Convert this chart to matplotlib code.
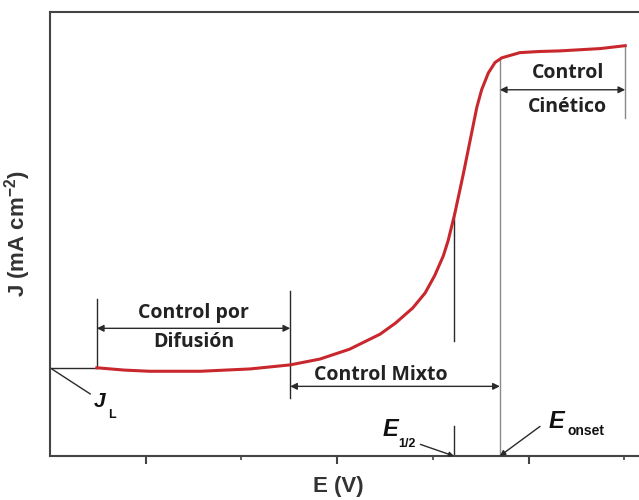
import numpy as np
import matplotlib.pyplot as plt

plt.rcParams['mathtext.default'] = 'regular'

# curva de polarizacion
E = [0.049, 0.078, 0.104, 0.157, 0.209, 0.251, 0.282, 0.313, 0.329, 0.345,
     0.361, 0.379, 0.392, 0.402, 0.411, 0.416, 0.423, 0.432, 0.439, 0.446,
     0.451, 0.458, 0.465, 0.472, 0.491, 0.512, 0.533, 0.575, 0.601]
J = [-5.48, -5.52, -5.54, -5.54, -5.50, -5.43, -5.33, -5.16, -5.03, -4.90,
     -4.71, -4.45, -4.19, -3.89, -3.55, -3.29, -2.82, -2.13, -1.56, -0.99,
     -0.69, -0.40, -0.22, -0.14, -0.05, -0.03, -0.02, 0.02, 0.07]

E_ini = 0.049      # inicio zona difusion
E_dif = 0.251      # fin zona difusion
E_half = 0.422
E_onset = 0.470
E_fin = 0.601
J_L = -5.48
J_half = -2.82

negro = '#2a2a2a'
gris = '#8a8a8a'
fb = dict(family='Open Sans', fontweight='bold', fontsize=14, color='#222222')
fe = dict(family='Liberation Sans', fontweight='bold', color='#111111')

fig = plt.figure(figsize=(6.39, 5.0), dpi=100)
ax = fig.add_axes([0.0782, 0.088, 1.0485, 0.888])
ax.set_xlim(0, 0.7)
ax.set_ylim(-7.0, 0.65)

ax.plot(E, J, color='#c8282d', lw=2.2, zorder=3, solid_joinstyle='round')

# J_L
ax.plot([0, E_ini], [J_L, J_L], color=negro, lw=1)
ax.plot([0, 0.042], [J_L, -5.93], color=negro, lw=1)
ax.text(0.046, -6.06, 'J', fontsize=15, fontstyle='italic', ha='left', va='center', **fe)
ax.text(0.061, -6.29, 'L', fontsize=9, ha='left', va='center', **fe)

# difusion
ax.plot([E_ini, E_ini], [J_L, -4.29], color=negro, lw=1)
ax.plot([E_dif, E_dif], [-4.15, -6.0], color=negro, lw=1)
ax.annotate('', xy=(E_ini, -4.80), xytext=(E_dif, -4.80),
            arrowprops=dict(arrowstyle='<|-|>', color=negro, lw=1,
                            mutation_scale=10, shrinkA=0, shrinkB=0))
ax.text((E_ini + E_dif) / 2, -4.53, 'Control por', ha='center', va='center', **fb)
ax.text((E_ini + E_dif) / 2, -5.04, 'Difusión', ha='center', va='center', **fb)

# mixto
ax.annotate('', xy=(E_dif, -5.80), xytext=(E_onset, -5.80),
            arrowprops=dict(arrowstyle='<|-|>', color=negro, lw=1,
                            mutation_scale=10, shrinkA=0, shrinkB=0))
ax.text(0.346, -5.60, 'Control Mixto', ha='center', va='center', **fb)

# E onset
ax.plot([E_onset, E_onset], [-0.14, -7.0], color=gris, lw=1)
ax.annotate('', xy=(E_onset, -7.0), xytext=(0.512, -6.49),
            arrowprops=dict(arrowstyle='-|>', color=negro, lw=1,
                            mutation_scale=8, shrinkA=0, shrinkB=0))
ax.text(0.521, -6.40, 'E', fontsize=17, fontstyle='italic', ha='left', va='center', **fe)
ax.text(0.541, -6.57, 'onset', fontsize=10, ha='left', va='center', **fe)

# E 1/2
ax.plot([E_half, E_half], [J_half, -5.02], color=negro, lw=1)
ax.plot([E_half, E_half], [-6.49, -7.0], color=negro, lw=1)
ax.annotate('', xy=(E_half, -7.0), xytext=(0.387, -6.80),
            arrowprops=dict(arrowstyle='-|>', color=negro, lw=1,
                            mutation_scale=7, shrinkA=0, shrinkB=0))
ax.text(0.347, -6.54, 'E', fontsize=17, fontstyle='italic', ha='left', va='center', **fe)
ax.text(0.364, -6.79, '1/2', fontsize=9, ha='left', va='center', **fe)

# cinetico
ax.plot([E_fin, E_fin], [0.07, -1.18], color=gris, lw=1)
ax.annotate('', xy=(E_onset, -0.69), xytext=(E_fin, -0.69),
            arrowprops=dict(arrowstyle='<|-|>', color=negro, lw=1,
                            mutation_scale=10, shrinkA=0, shrinkB=0))
ax.text(0.541, -0.40, 'Control', ha='center', va='center', **fb)
ax.text(0.541, -0.99, 'Cinético', ha='center', va='center', **fb)

# ejes
for s in ax.spines.values():
    s.set_color('#444444')
    s.set_linewidth(1.5)
ax.set_xticks([0.1, 0.3, 0.5])
ax.set_xticks([0.2, 0.4, 0.6], minor=True)
ax.set_xticklabels([])
ax.set_yticks([])
ax.tick_params(axis='x', which='major', direction='out', length=6, width=1.5, color='#444444')
ax.tick_params(axis='x', which='minor', direction='out', length=3, width=1.2, color='#444444')

ax.set_xlabel('E (V)', fontsize=16, family='Liberation Sans',
              fontweight='bold', color='#333333')
ax.xaxis.set_label_coords(0.43, -0.045)
ax.set_ylabel(r'J (mA cm$^{-2}$)', fontsize=16, labelpad=12, family='Liberation Sans',
              fontweight='bold', color='#333333')

plt.savefig('out.png', dpi=100)
